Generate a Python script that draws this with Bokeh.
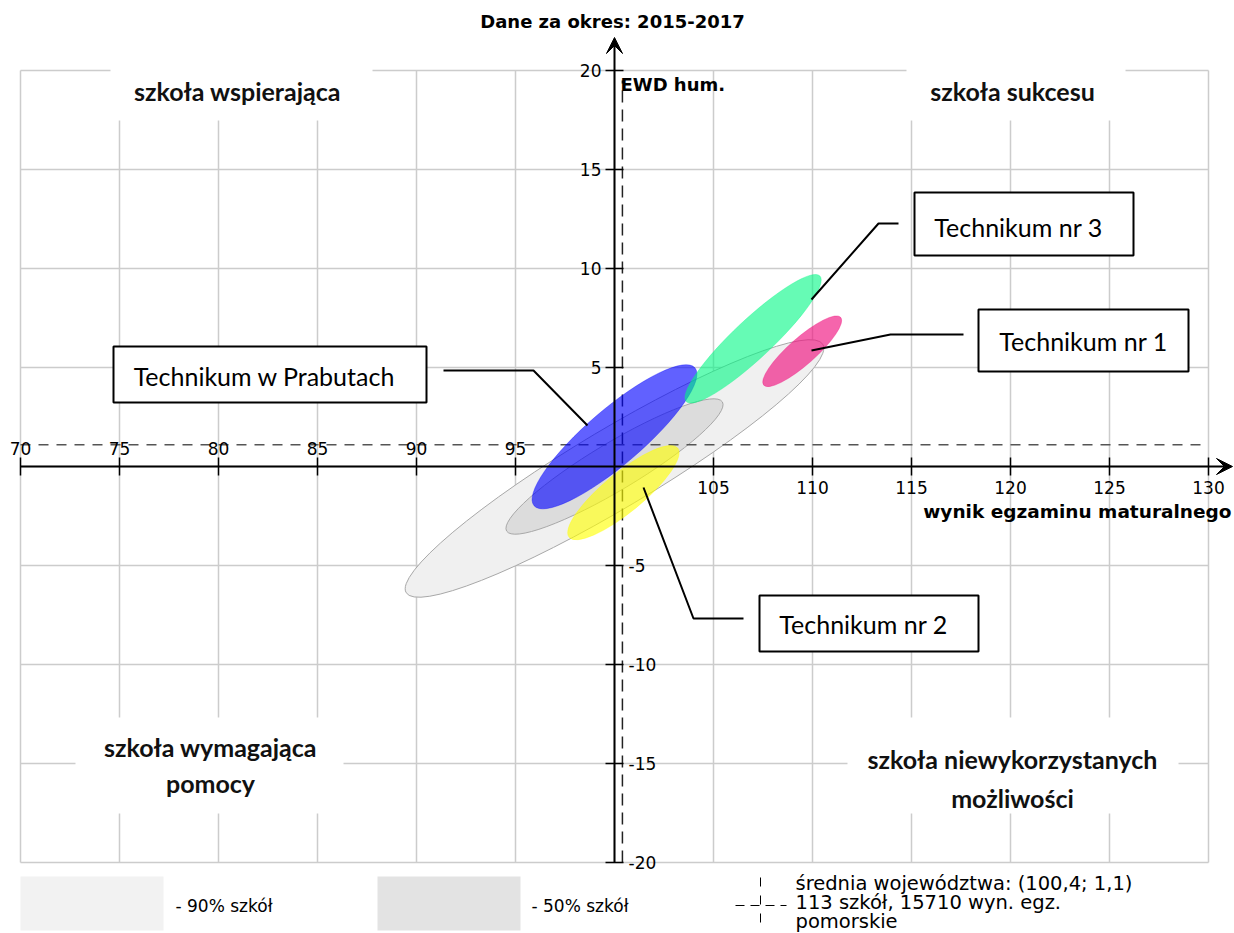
from bokeh.plotting import figure
from bokeh.models import Range1d, LinearAxis, FixedTicker, Arrow, VeeHead
from bokeh.core.properties import value
from bokeh.embed import file_html
from bokeh.resources import INLINE
import math

# ---------------- data ----------------
x_ticks_left = [70, 75, 80, 85, 90, 95]
x_ticks_right = [105, 110, 115, 120, 125, 130]
y_ticks_up = [5, 10, 15, 20]
y_ticks_down = [-20, -15, -10, -5]
grid_x = [70, 75, 80, 85, 90, 95, 100, 105, 110, 115, 120, 125, 130]
grid_y = [-20, -15, -10, -5, 0, 5, 10, 15, 20]

mean_x = 100.4
mean_y = 1.1

region_names = ["90% szkół", "50% szkół"]
region_x = [100.0, 100.0]
region_y = [-0.1, 0.0]
region_w = [24.5, 12.7]
region_h = [4.0, 2.4]
region_angle = [30.8, 30.9]
region_color = ["#f0f0f0", "#dcdcdc"]

school_names = ["Technikum w Prabutach", "Technikum nr 2", "Technikum nr 3", "Technikum nr 1"]
school_x = [100.0, 100.45, 107.0, 109.48]
school_y = [1.5, -1.32, 6.45, 5.82]
school_w = [10.7, 7.1, 9.26, 5.18]
school_h = [2.8, 2.0, 1.95, 1.35]
school_angle = [40.6, 39.4, 43.2, 41.4]
school_color = ["#0000ff", "#ffff00", "#00f884", "#f0127f"]
school_alpha = [0.62, 0.62, 0.6, 0.65]

quadrant_texts = ["szkoła wspierająca", "szkoła sukcesu",
                  "szkoła wymagająca", "pomocy",
                  "szkoła niewykorzystanych", "możliwości"]

legend_texts = ["- 90% szkół", "- 50% szkół"]
legend_info = ["średnia województwa: (100,4; 1,1)", "113 szkół, 15710 wyn. egz.", "pomorskie"]

# ---------------- layout helpers (page pixels -> data) ----------------
W, H = 1234, 933
S = 19.8
X0 = 70 - 20 / S
X1 = X0 + W / S
Y1 = 20 + 70 / S
Y0 = Y1 - H / S


def px(xp):
    return X0 + xp / S


def py(yp):
    return Y1 - yp / S


p = figure(width=W, height=H, x_range=Range1d(X0, X1), y_range=Range1d(Y0, Y1),
           output_backend="svg", toolbar_location=None, min_border=0,
           x_axis_type=None, y_axis_type=None)
p.outline_line_color = None
p.background_fill_color = "white"
p.border_fill_color = "white"

# grid
p.segment(x0=grid_x, y0=[grid_y[0]] * len(grid_x), x1=grid_x, y1=[grid_y[-1]] * len(grid_x),
          line_color="#cccccc", line_width=1.5)
p.segment(x0=[grid_x[0]] * len(grid_y), y0=grid_y, x1=[grid_x[-1]] * len(grid_y), y1=grid_y,
          line_color="#cccccc", line_width=1.5)

# quadrant label backgrounds
qb = [(110, 372, 62, 120), (906, 1125, 62, 120), (75, 343, 717, 813), (847, 1178, 717, 813)]
p.quad(left=[px(b[0]) for b in qb], right=[px(b[1]) for b in qb],
       top=[py(b[2]) for b in qb], bottom=[py(b[3]) for b in qb],
       fill_color="white", line_color=None)
qpos = [(237, 90), (1012, 90), (210, 746), (210, 782), (1012, 758), (1012, 797)]
p.text(x=[px(a) for a, b in qpos], y=[py(b) for a, b in qpos], text=quadrant_texts,
       text_font=value("Lato"), text_font_style="bold", text_font_size="25px",
       text_align="center", text_baseline="middle", text_color="#111111")

# regions (gray ellipses)
p.ellipse(x=region_x, y=region_y, width=region_w, height=region_h,
          angle=[math.radians(a) for a in region_angle],
          fill_color=region_color, line_color="#a8a8a8", line_width=1)

# mean dashed lines
p.line(x=[mean_x, mean_x], y=[-20, 19.5], line_color="#222222", line_width=1.5, line_dash="12 7")
p.line(x=[70, 129.8], y=[mean_y, mean_y], line_color="#555555", line_width=1.5, line_dash="10 8")

# school ellipses
p.ellipse(x=school_x, y=school_y, width=school_w, height=school_h,
          angle=[math.radians(a) for a in school_angle],
          fill_color=school_color, fill_alpha=school_alpha,
          line_color=school_color, line_alpha=0.35, line_width=1)

# axes lines with arrows
p.add_layout(Arrow(end=VeeHead(size=16, fill_color="black", line_color="black"),
                   x_start=70, y_start=0, x_end=px(1232), y_end=0,
                   line_color="black", line_width=2))
p.add_layout(Arrow(end=VeeHead(size=16, fill_color="black", line_color="black"),
                   x_start=100, y_start=-20, x_end=100, y_end=py(37),
                   line_color="black", line_width=2))


def mk_axis(ticks, loc, standoff):
    return LinearAxis(ticker=FixedTicker(ticks=ticks), fixed_location=loc,
                      axis_line_color=None, major_tick_in=9, major_tick_out=9,
                      major_tick_line_color="black", major_tick_line_width=1.5,
                      minor_tick_line_color=None,
                      major_label_overrides={t: str(t) for t in ticks},
                      major_label_text_font="DejaVu Sans",
                      major_label_text_font_size="17px",
                      major_label_text_color="black",
                      major_label_standoff=standoff)


p.add_layout(mk_axis(x_ticks_left, 0, 3), "above")
p.add_layout(mk_axis(x_ticks_right, 0, 5), "below")
p.add_layout(mk_axis(y_ticks_up, 100, 4), "left")
p.add_layout(mk_axis(y_ticks_down, 100, 5), "right")

# axis titles
p.text(x=[px(612)], y=[py(21)], text=["Dane za okres: 2015-2017"],
       text_font=value("DejaVu Sans"), text_font_style="bold", text_font_size="18px",
       text_align="center", text_baseline="middle", text_color="black")
p.text(x=[px(620)], y=[py(84)], text=["EWD hum."],
       text_font=value("DejaVu Sans"), text_font_style="bold", text_font_size="18px",
       text_align="left", text_baseline="middle", text_color="black")
p.text(x=[px(1231)], y=[py(511)], text=["wynik egzaminu maturalnego"],
       text_font=value("DejaVu Sans"), text_font_style="bold", text_font_size="18.5px",
       text_align="right", text_baseline="middle", text_color="black")

# callout boxes
boxes = [(113, 426, 346, 402), (759, 978, 595, 651), (914, 1133, 192, 255), (978, 1188, 309, 371)]
p.quad(left=[px(b[0]) for b in boxes], right=[px(b[1]) for b in boxes],
       top=[py(b[2]) for b in boxes], bottom=[py(b[3]) for b in boxes],
       fill_color="white", line_color="black", line_width=2)
tpos = [(264, 375), (863, 623), (1018, 226), (1083, 340)]
p.text(x=[px(a) for a, b in tpos], y=[py(b) for a, b in tpos], text=school_names,
       text_font=value("Lato"), text_font_size="25px",
       text_align="center", text_baseline="middle", text_color="black")
leaders = [
    [(443, 370), (533, 370), (587, 425)],
    [(743, 618), (693, 618), (643, 487)],
    [(898, 223), (878, 223), (811, 299)],
    [(963, 334), (890, 334), (811, 350)],
]
p.multi_line(xs=[[px(a) for a, b in L] for L in leaders],
             ys=[[py(b) for a, b in L] for L in leaders],
             line_color="black", line_width=2)

# bottom legend
sw = [(20, 163), (377, 520)]
p.quad(left=[px(a) for a, b in sw], right=[px(b) for a, b in sw],
       top=[py(876)] * 2, bottom=[py(930)] * 2,
       fill_color=["#f2f2f2", "#e3e3e3"], line_color=None)
p.text(x=[px(175), px(531)], y=[py(905)] * 2, text=legend_texts,
       text_font=value("DejaVu Sans"), text_font_size="17px",
       text_align="left", text_baseline="middle", text_color="black")
p.line(x=[px(760), px(760)], y=[py(877), py(930)], line_color="black", line_width=1, line_dash="9 9")
p.line(x=[px(735), px(786)], y=[py(905), py(905)], line_color="black", line_width=1, line_dash="9 6")
p.text(x=[px(795)] * 3, y=[py(883), py(902), py(921)], text=legend_info,
       text_font=value("DejaVu Sans"), text_font_size="19.5px",
       text_align="left", text_baseline="middle", text_color="black")

open("out.html", "w").write(file_html(p, INLINE))
